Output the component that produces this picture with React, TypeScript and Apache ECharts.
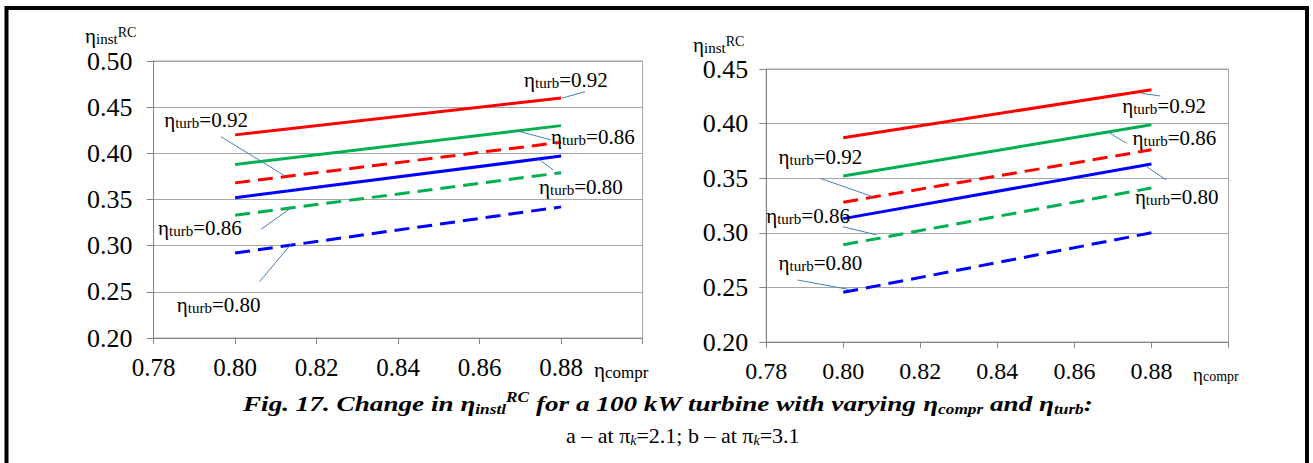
import { useEffect, useRef } from 'react';
import * as echarts from 'echarts';

const FONT = 'Liberation Serif, Times New Roman, serif';

// x axis (η_compr)
const X_MIN = 0.78;
const X_MAX = 0.9;
const X_STEP = 0.02;
const compr = [0.8, 0.88];

// chart a (π_k = 2.1)
const aY = { min: 0.2, max: 0.5, step: 0.05 };
const aSolid092 = [0.42, 0.46];
const aSolid086 = [0.388, 0.43];
const aSolid080 = [0.352, 0.397];
const aDash092 = [0.368, 0.412];
const aDash086 = [0.333, 0.379];
const aDash080 = [0.292, 0.342];

// chart b (π_k = 3.1)
const bY = { min: 0.2, max: 0.45, step: 0.05 };
const bSolid092 = [0.387, 0.431];
const bSolid086 = [0.352, 0.399];
const bSolid080 = [0.313, 0.363];
const bDash092 = [0.328, 0.376];
const bDash086 = [0.289, 0.341];
const bDash080 = [0.2455, 0.3];

// annotations: label text, label anchor (left/middle), leader line ends — all in data coords
type Ann = { label: string; at: number[]; from: number[]; to: number[] };
const annA: Ann[] = [
  { label: '0.92', at: [0.8709, 0.4795], from: [0.8859, 0.4668], to: [0.8802, 0.4597] },
  { label: '0.92', at: [0.7826, 0.4362], from: [0.7965, 0.4181], to: [0.8125, 0.3748] },
  { label: '0.86', at: [0.8775, 0.4172], from: [0.8775, 0.4145], to: [0.8693, 0.4243] },
  { label: '0.80', at: [0.8746, 0.3636], from: [0.8745, 0.3936], to: [0.8781, 0.382] },
  { label: '0.86', at: [0.7811, 0.3192], from: [0.8064, 0.3178], to: [0.8136, 0.3405] },
  { label: '0.80', at: [0.7857, 0.2358], from: [0.806, 0.261], to: [0.8139, 0.3026] },
];
const annB: Ann[] = [
  { label: '0.92', at: [0.8724, 0.4157], from: [0.8822, 0.4253], to: [0.8773, 0.4278] },
  { label: '0.86', at: [0.8751, 0.3864], from: [0.8735, 0.382], to: [0.8686, 0.3926] },
  { label: '0.80', at: [0.8757, 0.3332], from: [0.8838, 0.3484], to: [0.8788, 0.3605] },
  { label: '0.92', at: [0.7832, 0.369], from: [0.794, 0.3499], to: [0.8076, 0.3331] },
  { label: '0.86', at: [0.78, 0.3158], from: [0.7999, 0.3056], to: [0.8087, 0.298] },
  { label: '0.80', at: [0.7832, 0.2719], from: [0.7881, 0.2568], to: [0.8022, 0.2476] },
];

const RED = '#ff0000';
const GREEN = '#00b050';
const BLUE = '#0000ff';
const LEADER = '#4a7ebb';
const GRID_C = '#a6a6a6';
const AXIS_C = '#868686';

const pts = (ys: number[]) => compr.map((x, i) => [x, ys[i]]);

function lineSeries(idx: number, ys: number[], color: string, dashed: boolean) {
  return {
    type: 'line',
    xAxisIndex: idx,
    yAxisIndex: idx,
    data: pts(ys),
    showSymbol: false,
    symbol: 'none',
    silent: true,
    lineStyle: { color, width: 3, type: dashed ? [15, 8] : 'solid' },
  };
}

function xAxis(idx: number, size: number) {
  return {
    type: 'value',
    gridIndex: idx,
    min: X_MIN,
    max: X_MAX,
    interval: X_STEP,
    axisLine: { show: true, lineStyle: { color: AXIS_C, width: 1 } },
    axisTick: { show: true, inside: false, length: 6, lineStyle: { color: AXIS_C } },
    splitLine: { show: false },
    axisLabel: {
      color: '#000',
      fontFamily: FONT,
      fontSize: size,
      margin: 17,
      showMaxLabel: true,
      formatter: (v: number) => (v > X_MAX - X_STEP / 2 ? '' : v.toFixed(2)),
    },
  };
}

function yAxis(idx: number, r: { min: number; max: number; step: number }, margin: number) {
  return {
    type: 'value',
    gridIndex: idx,
    min: r.min,
    max: r.max,
    interval: r.step,
    axisLine: { show: true, lineStyle: { color: AXIS_C, width: 1 } },
    axisTick: { show: true, inside: false, length: 7, lineStyle: { color: AXIS_C } },
    splitLine: { show: true, lineStyle: { color: GRID_C, width: 1 } },
    axisLabel: {
      color: '#000',
      fontFamily: FONT,
      fontSize: 26,
      margin,
      formatter: (v: number) => v.toFixed(2),
    },
  };
}

const etaRich = (main: number, sub: number, sup = sub) => ({
  e: { fontFamily: FONT, fontSize: main, lineHeight: main, fill: '#000' },
  s: { fontFamily: FONT, fontSize: sub, lineHeight: sub, verticalAlign: 'bottom', fill: '#000' },
  p: { fontFamily: FONT, fontSize: sup, lineHeight: sup, verticalAlign: 'top', fill: '#000' },
});

export default function App() {
  const ref = useRef<HTMLDivElement>(null);

  useEffect(() => {
    if (!ref.current) return;
    const chart = echarts.init(ref.current, undefined, { renderer: 'svg' });

    chart.setOption({
      animation: false,
      backgroundColor: '#fff',
      textStyle: { fontFamily: FONT },
      grid: [
        { left: 153.6, top: 61, width: 489, height: 277, show: true, borderColor: GRID_C, borderWidth: 1, outerBoundsMode: 'none' },
        { left: 766.2, top: 69, width: 462.3, height: 273, show: true, borderColor: GRID_C, borderWidth: 1, outerBoundsMode: 'none' },
      ],
      xAxis: [xAxis(0, 25), xAxis(1, 24)],
      yAxis: [yAxis(0, aY, 21), yAxis(1, bY, 18)],
      series: [
        lineSeries(0, aSolid092, RED, false),
        lineSeries(0, aSolid086, GREEN, false),
        lineSeries(0, aSolid080, BLUE, false),
        lineSeries(0, aDash092, RED, true),
        lineSeries(0, aDash086, GREEN, true),
        lineSeries(0, aDash080, BLUE, true),
        lineSeries(1, bSolid092, RED, false),
        lineSeries(1, bSolid086, GREEN, false),
        lineSeries(1, bSolid080, BLUE, false),
        lineSeries(1, bDash092, RED, true),
        lineSeries(1, bDash086, GREEN, true),
        lineSeries(1, bDash080, BLUE, true),
      ],
    });

    const toPx = (g: number, p: number[]) => chart.convertToPixel({ gridIndex: g }, p) as number[];
    const graphics: any[] = [];

    const addAnn = (g: number, list: Ann[]) => {
      list.forEach((a) => {
        const t = toPx(g, a.at);
        const f = toPx(g, a.from);
        const to = toPx(g, a.to);
        graphics.push({
          type: 'line',
          silent: true,
          z: 50,
          shape: { x1: f[0], y1: f[1], x2: to[0], y2: to[1] },
          style: { stroke: LEADER, lineWidth: 1 },
        });
        graphics.push({
          type: 'text',
          silent: true,
          z: 60,
          x: t[0],
          y: t[1],
          style: {
            text: `{e|η}{s|turb}{e|=${a.label}}`,
            rich: etaRich(21, 15),
            textAlign: 'left',
            textVerticalAlign: 'middle',
          },
        });
      });
    };
    addAnn(0, annA);
    addAnn(1, annB);

    // frame
    graphics.push({
      type: 'rect',
      silent: true,
      z: 100,
      shape: { x: 6.5, y: 8, width: 1300.5, height: 480 },
      style: { fill: 'none', stroke: '#000', lineWidth: 4 },
    });

    // axis titles
    graphics.push({
      type: 'text', silent: true, z: 60, x: 85, y: 36,
      style: { text: '{e|η}{s|inst}{p|RC}', rich: etaRich(21, 15, 14), textVerticalAlign: 'middle' },
    });
    graphics.push({
      type: 'text', silent: true, z: 60, x: 693, y: 45,
      style: { text: '{e|η}{s|inst}{p|RC}', rich: etaRich(21, 15, 14), textVerticalAlign: 'middle' },
    });
    graphics.push({
      type: 'text', silent: true, z: 60, x: 594, y: 370,
      style: { text: '{e|η}{s|compr}', rich: etaRich(21, 17), textVerticalAlign: 'middle' },
    });
    graphics.push({
      type: 'text', silent: true, z: 60, x: 1193, y: 374,
      style: { text: '{e|η}{s|compr}', rich: etaRich(19, 14), textVerticalAlign: 'middle' },
    });

    // caption
    const bi = { fontFamily: FONT, fontWeight: 'bold', fontStyle: 'italic', fill: '#000' };
    graphics.push({
      type: 'text', silent: true, z: 60, x: 243, y: 403, scaleX: 1.235,
      style: {
        text: '{b|Fig. 17. Change in }{b|η}{s|instl}{p|RC}{b| for a 100 kW turbine with varying }{b|η}{s|compr}{b| and }{b|η}{s|turb}{b|:}',
        textVerticalAlign: 'middle',
        rich: {
          b: { ...bi, fontSize: 22, lineHeight: 26 },
          s: { ...bi, fontSize: 14, lineHeight: 14, verticalAlign: 'bottom' },
          p: { ...bi, fontSize: 14, lineHeight: 14, verticalAlign: 'top' },
        },
      },
    });
    const rg = { fontFamily: FONT, fill: '#000' };
    graphics.push({
      type: 'text', silent: true, z: 60, x: 566, y: 435,
      style: {
        text: '{r|a – at π}{k|k}{r|=2.1; b – at π}{k|k}{r|=3.1}',
        textVerticalAlign: 'middle',
        rich: {
          r: { ...rg, fontSize: 22, lineHeight: 24 },
          k: { ...rg, fontStyle: 'italic', fontSize: 14, lineHeight: 14, verticalAlign: 'bottom' },
        },
      },
    });

    chart.setOption({ graphic: graphics });

    return () => chart.dispose();
  }, []);

  return (
    <div
      ref={ref}
      style={{ position: 'fixed', left: 0, top: 0, width: 1313, height: 463, background: '#fff' }}
    />
  );
}
